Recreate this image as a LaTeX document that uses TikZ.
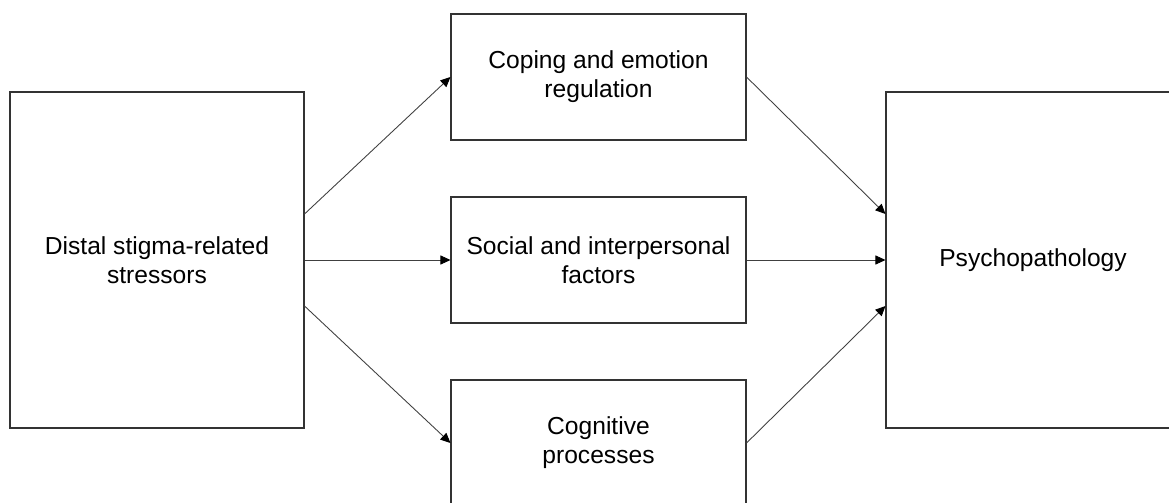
\documentclass[tikz,border=0pt]{standalone}
\usepackage{fontspec}
\setmainfont{Liberation Sans}
\usetikzlibrary{arrows.meta}
\begin{document}
\begin{tikzpicture}[
		box/.style = {draw = black!80, line width = 0.6pt, align = center,
			font = \fontsize{14}{16.5}\selectfont, inner sep = 0pt},
		bigbox/.style = {box, minimum width = 5.88cm, minimum height = 6.72cm},
		midbox/.style = {box, minimum width = 5.9cm, minimum height = 2.52cm},
		link/.style = {draw = black!75, line width = 0.5pt,
			-{Triangle[length = 2mm, width = 1.8mm, color = black]}}
	]
		% page
		\clip (0, 0) rectangle (23.38, 10.04);
		% boxes
		\node[bigbox] (stress) at (3.14, 4.84) {Distal stigma-related\\stressors};
		\node[midbox] (coping) at (11.97, 8.5) {Coping and emotion\\regulation};
		\node[midbox] (social) at (11.97, 4.84) {Social and interpersonal\\factors};
		\node[midbox] (cognit) at (11.97, 1.18) {Cognitive\\processes};
		\node[bigbox] (psych) at (20.66, 4.84) {Psychopathology};
		% links in
		\draw[link] ([yshift = 0.92cm]stress.east) -- (coping.west);
		\draw[link] (stress.east) -- (social.west);
		\draw[link] ([yshift = -0.92cm]stress.east) -- (cognit.west);
		% links out
		\draw[link] (coping.east) -- ([yshift = 0.92cm]psych.west);
		\draw[link] (social.east) -- (psych.west);
		\draw[link] (cognit.east) -- ([yshift = -0.92cm]psych.west);
	\end{tikzpicture}
\end{document}
